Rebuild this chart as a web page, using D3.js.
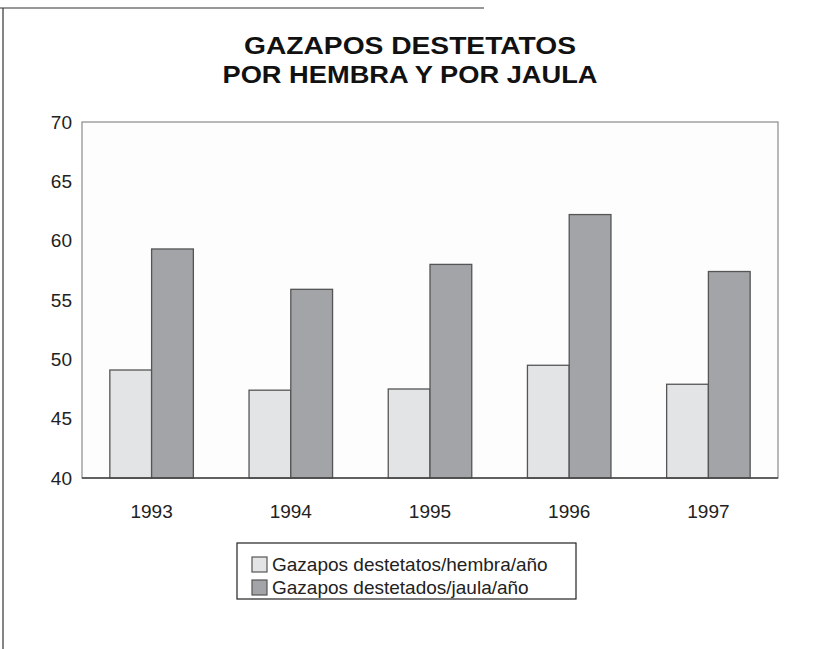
<!DOCTYPE html>
<html><head><meta charset="utf-8">
<script src="https://cdn.jsdelivr.net/npm/d3@7"></script>
<style>body{margin:0;background:#fff}svg{display:block}text{font-family:"Liberation Sans",Arial,sans-serif}</style>
</head><body><svg id="c" width="817" height="649"></svg>
<script>
const years = ["1993","1994","1995","1996","1997"];
const seriesNames = ["Gazapos destetatos/hembra/año","Gazapos destetados/jaula/año"];
const hembra = [49.1, 47.4, 47.5, 49.5, 47.9];
const jaula = [59.3, 55.9, 58.0, 62.2, 57.4];
const yTicks = [40,45,50,55,60,65,70];
const titleLines = ["GAZAPOS DESTETATOS","POR HEMBRA Y POR JAULA"];

const svg = d3.select("#c");
const m = {l:82, r:778, t:122, b:478};
const x = d3.scaleBand().domain(years).range([m.l, m.r]).paddingInner(0.4).paddingOuter(0.2);
const xs = d3.scaleBand().domain([0,1]).range([0, x.bandwidth()]);
const y = d3.scaleLinear().domain([40,70]).range([m.b, m.t]);
const colors = ["#e3e4e5","#a2a4a7"];

// outer frame fragments
svg.append("line").attr("x1",3).attr("x2",3).attr("y1",8).attr("y2",649).attr("stroke","#333").attr("stroke-width",1.2);
svg.append("line").attr("x1",0).attr("x2",484).attr("y1",8).attr("y2",8).attr("stroke","#333").attr("stroke-width",1.2);

// title
const tl = [332, 375];
svg.append("g").selectAll("text").data(titleLines).join("text")
 .attr("x",410).attr("y",(d,i)=>54+i*29).attr("text-anchor","middle")
 .attr("font-weight","bold").attr("font-size",24).attr("fill","#111")
 .attr("textLength",(d,i)=>tl[i]).attr("lengthAdjust","spacingAndGlyphs")
 .text(d=>d);

// plot area
svg.append("rect").attr("x",m.l).attr("y",m.t).attr("width",m.r-m.l).attr("height",m.b-m.t).attr("fill","#fdfdfd").attr("stroke","#8a8a8a").attr("stroke-width",1.2);

// y axis labels
const ya = svg.append("g").attr("transform",`translate(${m.l},0)`).call(d3.axisLeft(y).tickValues(yTicks).tickSize(0).tickPadding(10));
ya.select(".domain").remove();
ya.selectAll("text").attr("font-size",19).attr("fill","#222").style("font-family","Liberation Sans, Arial, sans-serif");

// x axis
const xa = svg.append("g").attr("transform",`translate(0,${m.b})`).call(d3.axisBottom(x).tickSize(0).tickPadding(27));
xa.select(".domain").remove();
xa.selectAll("text").attr("font-size",19).attr("fill","#222").style("font-family","Liberation Sans, Arial, sans-serif");

// bars
const data = [hembra, jaula];
data.forEach((vals, s) => {
  svg.append("g").selectAll("rect").data(vals).join("rect")
    .attr("x",(d,i)=>x(years[i])+xs(s))
    .attr("y",d=>y(d))
    .attr("width",xs.bandwidth())
    .attr("height",d=>y(40)-y(d))
    .attr("fill",colors[s]).attr("stroke","#555").attr("stroke-width",1.3);
});
svg.append("line").attr("x1",m.l).attr("x2",m.r).attr("y1",m.b).attr("y2",m.b).attr("stroke","#444").attr("stroke-width",1.3);

// legend
const lg = svg.append("g");
lg.append("rect").attr("x",237).attr("y",543).attr("width",339).attr("height",56).attr("fill","#fff").attr("stroke","#222").attr("stroke-width",1.2);
const items = lg.selectAll("g").data(seriesNames).join("g").attr("transform",(d,i)=>`translate(252,${564+i*23})`);
items.append("rect").attr("x",0).attr("y",-7).attr("width",15).attr("height",15).attr("fill",(d,i)=>colors[i]).attr("stroke","#555").attr("stroke-width",1.2);
items.append("text").attr("x",20).attr("y",7).attr("font-size",19).attr("fill","#222").text(d=>d);
</script></body></html>
